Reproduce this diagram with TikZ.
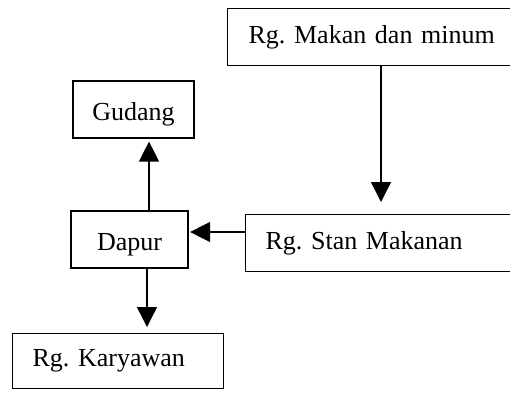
\documentclass[tikz,border=0pt]{standalone}
\usepackage{fontspec}
\setmainfont{Liberation Serif}
\usetikzlibrary{arrows.meta}
\frenchspacing
\begin{document}
\begin{tikzpicture}[x=1pt,y=-1pt,
  room/.style={draw, line width=1.2pt, minimum height=57pt, inner ysep=0pt,
    font=\fontsize{26}{30}\selectfont},
  openroom/.style={room, anchor=north west, align=left, inner xsep=20pt},
  lowtext/.style={text height=26pt, text depth=5pt},
  flow/.style={line width=1.4pt, -{Triangle[width=20pt,length=20pt]}}]
  \useasboundingbox (0,0) rectangle (510,392);
  \clip (0,0) rectangle (510,392);

  % rooms
  \node[openroom, text width=280pt, inner xsep=21pt] (meal) at (227,8) {Rg. Makan dan minum};
  \node[room, lowtext, minimum width=121pt] (gudang) at (133.5,109.5) {Gudang};
  \node[room, lowtext, minimum width=117pt] (dapur) at (129.5,239.5) {Dapur};
  \node[openroom, text width=280pt] (stan) at (245,214) {Rg. Stan Makanan};
  \node[openroom, text width=171pt, minimum height=55pt] (karyawan) at (12,333) {Rg. Karyawan};

  % connector guides
  \coordinate (mx) at (381,0);
  \coordinate (gx) at (149,0);
  \coordinate (ky) at (0,232);
  \coordinate (kx) at (147,0);

  % flows
  \draw[flow, shorten >=12pt] (mx |- meal.south) -- (mx |- stan.north);
  \draw[flow, shorten >=3pt] (gx |- dapur.north) -- (gx |- gudang.south);
  \draw[flow, shorten >=1.5pt] (stan.west |- ky) -- (dapur.east |- ky);
  \draw[flow, shorten >=6pt] (kx |- dapur.south) -- (kx |- karyawan.north);
\end{tikzpicture}
\end{document}
